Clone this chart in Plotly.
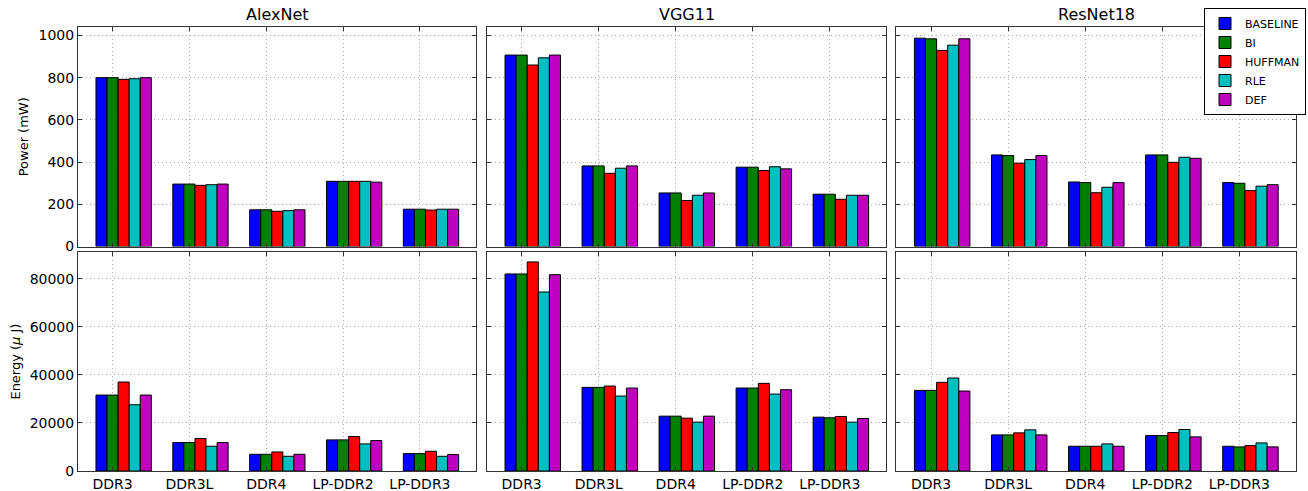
import plotly.graph_objects as go
from plotly.subplots import make_subplots

categories = ["DDR3", "DDR3L", "DDR4", "LP-DDR2", "LP-DDR3"]
series = ["BASELINE", "BI", "HUFFMAN", "RLE", "DEF"]
models = ["AlexNet", "VGG11", "ResNet18"]
colors = ["#0000ff", "#008000", "#ff0000", "#00bfbf", "#bf00bf"]

# Power (mW)
alexnet_power = {
    "BASELINE": [800, 296, 174, 309, 177],
    "BI":       [800, 296, 174, 309, 177],
    "HUFFMAN":  [792, 290, 167, 309, 173],
    "RLE":      [795, 293, 170, 309, 177],
    "DEF":      [800, 296, 174, 305, 177],
}
vgg11_power = {
    "BASELINE": [907, 382, 254, 376, 248],
    "BI":       [907, 382, 254, 376, 248],
    "HUFFMAN":  [860, 347, 218, 360, 224],
    "RLE":      [894, 371, 243, 378, 243],
    "DEF":      [907, 382, 254, 368, 243],
}
resnet18_power = {
    "BASELINE": [987, 434, 306, 434, 303],
    "BI":       [984, 431, 303, 434, 300],
    "HUFFMAN":  [929, 395, 255, 399, 265],
    "RLE":      [954, 412, 281, 423, 286],
    "DEF":      [984, 431, 303, 418, 293],
}

# Energy (uJ)
alexnet_energy = {
    "BASELINE": [31580, 11820, 6950, 12940, 7230],
    "BI":       [31580, 11820, 6950, 12940, 7230],
    "HUFFMAN":  [37000, 13490, 7930, 14330, 8210],
    "RLE":      [27540, 10290, 6120, 11270, 6120],
    "DEF":      [31580, 11820, 6950, 12660, 6820],
}
vgg11_energy = {
    "BASELINE": [81930, 34780, 22810, 34500, 22400],
    "BI":       [81930, 34780, 22810, 34500, 22120],
    "HUFFMAN":  [86940, 35330, 21980, 36440, 22670],
    "RLE":      [74420, 31160, 20310, 31990, 20310],
    "DEF":      [81650, 34500, 22810, 33800, 21840],
}
resnet18_energy = {
    "BASELINE": [33520, 15020, 10290, 14740, 10290],
    "BI":       [33520, 15020, 10290, 14740, 10020],
    "HUFFMAN":  [36860, 15860, 10290, 16000, 10570],
    "RLE":      [38670, 17110, 11270, 17250, 11680],
    "DEF":      [33250, 15020, 10290, 14190, 10020],
}

power = [alexnet_power, vgg11_power, resnet18_power]
energy = [alexnet_energy, vgg11_energy, resnet18_energy]

FONT = "DejaVu Sans"
W = 0.144  # bar width in category units
xpos = list(range(len(categories)))

fig = make_subplots(rows=2, cols=3)

for row, data in ((1, power), (2, energy)):
    for col in range(1, 4):
        d = data[col - 1]
        for j, s in enumerate(series):
            fig.add_trace(
                go.Bar(
                    x=xpos,
                    y=d[s],
                    name=s,
                    width=W,
                    offset=(j - 1.5) * W,
                    marker=dict(color=colors[j], line=dict(color="#000000", width=1)),
                    showlegend=(row == 1 and col == 1),
                    legendgroup=s,
                ),
                row=row,
                col=col,
            )

x_domains = [[0.0, 0.3271], [0.3358, 0.6637], [0.6719, 1.0]]
y_domains = {1: [0.5055, 1.0], 2: [0.0, 0.4929]}

axis_common = dict(
    showline=True,
    linecolor="#333333",
    linewidth=1,
    mirror="ticks",
    ticks="inside",
    ticklen=4,
    tickcolor="#333333",
    showgrid=True,
    gridcolor="#aaaaaa",
    griddash="1px,3px",
    gridwidth=1,
    zeroline=False,
    automargin=False,
    layer="above traces",
    tickfont=dict(family=FONT, size=14, color="#000000"),
)

for row in (1, 2):
    for col in range(1, 4):
        idx = (row - 1) * 3 + col
        xname = "xaxis" if idx == 1 else f"xaxis{idx}"
        yname = "yaxis" if idx == 1 else f"yaxis{idx}"
        fig.layout[xname].update(
            domain=x_domains[col - 1],
            range=[-0.45, 4.735],
            tickvals=xpos,
            ticktext=categories,
            showticklabels=(row == 2),
            **axis_common,
        )
        if row == 1:
            yupd = dict(range=[0, 1040], dtick=200, tick0=0)
        else:
            yupd = dict(range=[0, 91000], dtick=20000, tick0=0)
        fig.layout[yname].update(
            domain=y_domains[row],
            showticklabels=(col == 1),
            tickformat="d",
            **yupd,
            **axis_common,
        )

fig.layout.yaxis.title = dict(text="Power (mW)", font=dict(family=FONT, size=13, color="#000000"), standoff=6)
fig.layout.yaxis4.title = dict(text="Energy (<i>μ</i> J)", font=dict(family=FONT, size=13, color="#000000"), standoff=6)

for i, m in enumerate(models):
    xc = sum(x_domains[i]) / 2
    fig.add_annotation(
        text=m, x=xc, y=1.0, xref="paper", yref="paper",
        xanchor="center", yanchor="bottom", yshift=1, showarrow=False,
        font=dict(family=FONT, size=16, color="#000000"),
    )

fig.update_layout(
    width=1308,
    height=491,
    margin=dict(l=78, r=12, t=27, b=20, autoexpand=False),
    paper_bgcolor="white",
    plot_bgcolor="white",
    barmode="overlay",
    font=dict(family=FONT, size=12, color="#000000"),
    legend=dict(
        xref="container", yref="container",
        x=1204 / 1308, y=1 - 8 / 491, xanchor="left", yanchor="top",
        bgcolor="white", bordercolor="#000000", borderwidth=1,
        font=dict(family=FONT, size=11, color="#000000"),
        tracegroupgap=0, itemwidth=30,
    ),
)

fig.write_html(
    "out.html",
    config={"displayModeBar": False},
    post_script="document.body.style.margin='0';document.body.style.padding='0';",
)
